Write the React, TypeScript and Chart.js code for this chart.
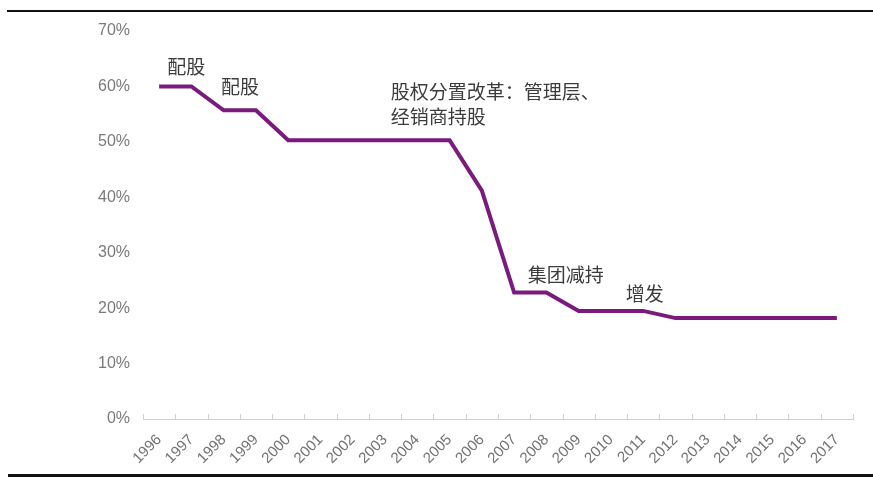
import React, { useEffect, useRef } from "react";
import { Chart, registerables } from "chart.js";

Chart.register(...registerables);

const years = ["1996","1997","1998","1999","2000","2001","2002","2003","2004","2005","2006","2007","2008","2009","2010","2011","2012","2013","2014","2015","2016","2017"];
const shareholding = [60.0, 60.0, 55.7, 55.7, 50.3, 50.3, 50.3, 50.3, 50.3, 50.3, 41.2, 22.8, 22.8, 19.5, 19.5, 19.5, 18.2, 18.2, 18.2, 18.2, 18.2, 18.2];
const yTicks = [0, 10, 20, 30, 40, 50, 60, 70];

// annotation texts and their anchors (category index, value in %)
const noteTexts = ["配股", "配股", "股权分置改革：管理层、", "经销商持股", "集团减持", "增发"];
const noteIndex = [0.25, 1.92, 7.18, 7.18, 11.42, 14.46];
const noteValue = [63.5, 59.9, 59.0, 54.5, 26.0, 22.6];

const FONT_LATIN = "'Liberation Sans', Arial, sans-serif";
const FONT_CJK = "'Noto Sans CJK SC', 'Liberation Sans', sans-serif";

export default function App() {
  const ref = useRef<HTMLCanvasElement | null>(null);
  useEffect(() => {
    if (!ref.current) return;
    const extras = {
      id: "extras",
      afterDraw(chart: any) {
        const ctx = chart.ctx;
        const xs = chart.scales.x;
        const ys = chart.scales.y;
        const area = chart.chartArea;
        ctx.save();
        // upward tick marks at category boundaries
        ctx.strokeStyle = "#cfcfcf";
        ctx.lineWidth = 1;
        const n = years.length;
        for (let i = 0; i <= n; i++) {
          const x = Math.round(xs.getPixelForValue(i - 0.5)) + 0.5;
          ctx.beginPath();
          ctx.moveTo(x, area.bottom);
          ctx.lineTo(x, area.bottom - 5);
          ctx.stroke();
        }
        // annotations
        ctx.fillStyle = "#3c3c3c";
        ctx.font = "19px " + FONT_CJK;
        ctx.textAlign = "left";
        ctx.textBaseline = "middle";
        noteTexts.forEach((t, i) => {
          ctx.fillText(t, xs.getPixelForValue(noteIndex[i]), ys.getPixelForValue(noteValue[i]));
        });
        ctx.restore();
      },
    };
    const chart = new Chart(ref.current, {
      type: "line",
      data: {
        labels: years,
        datasets: [
          {
            data: shareholding,
            borderColor: "#7b1a7d",
            borderWidth: 4,
            pointRadius: 0,
            tension: 0,
            fill: false,
          },
        ],
      },
      options: {
        responsive: false,
        animation: false,
        layout: { padding: { top: 31, right: 20, left: 0, bottom: 0 } },
        plugins: { legend: { display: false }, tooltip: { enabled: false } },
        scales: {
          x: {
            offset: true,
            grid: { display: false, offset: true, drawTicks: false },
            border: { display: true, color: "#cfcfcf", width: 1 },
            ticks: {
              autoSkip: false,
              maxRotation: 45,
              minRotation: 45,
              padding: 12,
              color: "#737373",
              font: { size: 15, family: FONT_LATIN },
            },
            afterFit(scale: any) {
              scale.height = 61;
            },
          },
          y: {
            min: 0,
            max: 70,
            afterBuildTicks(scale: any) {
              scale.ticks = yTicks.map((v) => ({ value: v }));
            },
            grid: { display: false, drawTicks: false },
            border: { display: false },
            ticks: {
              padding: 13,
              color: "#7a7a7a",
              font: { size: 16, family: FONT_LATIN },
              callback: (v: any) => v + "%",
            },
            afterFit(scale: any) {
              scale.width = 143;
            },
          },
        },
      },
      plugins: [extras],
    });
    return () => chart.destroy();
  }, []);

  return (
    <div style={{ position: "absolute", left: 0, top: 0, width: 873, height: 480, background: "#fff" }}>
      <div style={{ position: "absolute", left: 7, right: 0, top: 10, height: 2, background: "#111" }} />
      <canvas ref={ref} width={873} height={480} style={{ position: "absolute", left: 0, top: 0 }} />
      <div style={{ position: "absolute", left: 8, right: 0, top: 474, height: 3, background: "#111" }} />
    </div>
  );
}
